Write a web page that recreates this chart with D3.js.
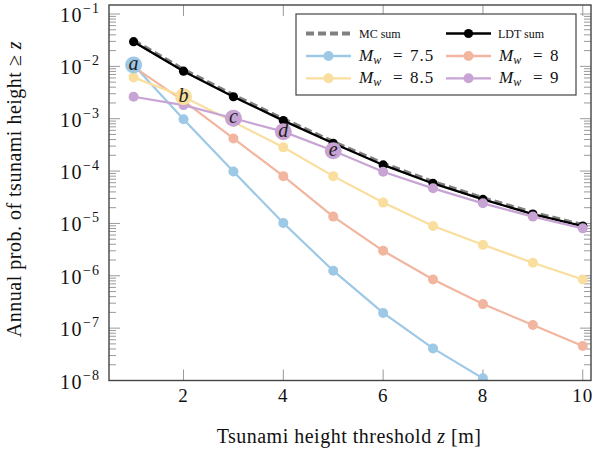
<!DOCTYPE html>
<html><head><meta charset="utf-8">
<script src="https://cdn.jsdelivr.net/npm/d3@7"></script>
<style>
body{margin:0;background:#fff;}
svg{display:block;}
</style></head>
<body>
<svg id="chart" width="594" height="450"></svg>
<script>
// ---- data ----
const thresholds = [1,2,3,4,5,6,7,8,9,10];
const mcSum   = [0.031, 0.0086, 0.0028, 0.00098, 0.00036, 0.000139, 6.2e-5, 3.05e-5, 1.6e-5, 9.3e-6];
const ldtSum  = [0.0296, 0.0081, 0.00263, 0.00092, 0.000339, 0.000131, 5.8e-5, 2.88e-5, 1.51e-5, 8.9e-6];
const mw75 = [0.0106, 0.00098, 9.8e-5, 1.02e-5, 1.25e-6, 1.95e-7, 4.1e-8, 1.1e-8];
const mw8  = [0.0098, 0.0022, 0.00042, 8.0e-5, 1.35e-5, 3.0e-6, 8.5e-7, 2.88e-7, 1.15e-7, 4.57e-8];
const mw85 = [0.00616, 0.00263, 0.00087, 0.000284, 8.0e-5, 2.5e-5, 8.9e-6, 3.9e-6, 1.78e-6, 8.5e-7];
const mw9  = [0.00263, 0.00182, 0.00102, 0.000566, 0.000245, 9.7e-5, 4.68e-5, 2.42e-5, 1.35e-5, 8.05e-6];
const xTicks = [2,4,6,8,10];
const yTickExps = [-1,-2,-3,-4,-5,-6,-7,-8];
const markLetters = ["a","b","c","d","e"];
const markSeries  = ["7.5","8.5","9","9","9"];
const markX       = [1,2,3,4,5];

const colors = {"7.5":"#9dc8e6","8":"#f2b59f","8.5":"#f9de9e","9":"#c8a4d5"};
const seriesData = {"7.5":mw75,"8":mw8,"8.5":mw85,"9":mw9};

// ---- layout ----
const FONT = "'Liberation Serif', 'DejaVu Serif', serif";
const svg = d3.select("#chart").attr("font-family", FONT);
const L=109, R=591, T=5, B=380.5;
const x = d3.scaleLinear().domain([0.507,10.165]).range([L,R]);
const y = d3.scaleLog().domain([1e-8, Math.pow(10,-0.828)]).range([B,T]);

svg.append("defs").append("clipPath").attr("id","clip")
  .append("rect").attr("x",L).attr("y",T).attr("width",R-L).attr("height",B-T);

// minor/major ticks
const tickG = svg.append("g").attr("stroke","#9a9a9a").attr("stroke-width",1);
const minor = [];
for (let e=-8;e<=-1;e++){ for(let m=2;m<=9;m++){ const v=m*Math.pow(10,e); if(v<=y.domain()[1]) minor.push(v);} }
minor.forEach(v=>{
  const yy=y(v);
  tickG.append("line").attr("x1",L).attr("x2",L+7).attr("y1",yy).attr("y2",yy);
  tickG.append("line").attr("x1",R).attr("x2",R-7).attr("y1",yy).attr("y2",yy);
});
yTickExps.forEach(e=>{
  const yy=y(Math.pow(10,e));
  tickG.append("line").attr("x1",L).attr("x2",L+11).attr("y1",yy).attr("y2",yy);
  tickG.append("line").attr("x1",R).attr("x2",R-11).attr("y1",yy).attr("y2",yy);
});
xTicks.forEach(v=>{
  const xx=x(v);
  tickG.append("line").attr("x1",xx).attr("x2",xx).attr("y1",B).attr("y2",B-11);
  tickG.append("line").attr("x1",xx).attr("x2",xx).attr("y1",T).attr("y2",T+11);
});

// tick labels
yTickExps.forEach(e=>{
  const t = svg.append("text").attr("x",100).attr("y",y(Math.pow(10,e))+8)
    .attr("text-anchor","end").attr("font-family",FONT).attr("font-size",20).attr("fill","#111");
  t.append("tspan").attr("letter-spacing",1.5).text("10");
  t.append("tspan").attr("dy",-9).attr("font-size",14).attr("letter-spacing",1).text("\u2212"+Math.abs(e));
});
xTicks.forEach(v=>{
  svg.append("text").attr("x",x(v)).attr("y",402).attr("text-anchor","middle").attr("font-family",FONT)
    .attr("font-size",19).attr("letter-spacing",1).attr("fill","#111").text(v);
});

// axis labels
const xl = svg.append("text").attr("x",349).attr("y",443).attr("text-anchor","middle").attr("font-family",FONT)
  .attr("font-size",20).attr("letter-spacing",0.5).attr("fill","#111");
xl.append("tspan").text("Tsunami height threshold ");
xl.append("tspan").attr("font-style","italic").text("z");
xl.append("tspan").text(" [m]");

const yl = svg.append("text").attr("transform","translate(21,189) rotate(-90)").attr("font-family",FONT)
  .attr("text-anchor","middle").attr("font-size",20).attr("letter-spacing",0.5).attr("fill","#111");
yl.append("tspan").text("Annual prob. of tsunami height \u2265 ");
yl.append("tspan").attr("font-style","italic").text("z");

// series
const plot = svg.append("g").attr("clip-path","url(#clip)");
const line = d3.line().x((d,i)=>x(thresholds[i])).y(d=>y(d));

plot.append("path").datum(mcSum).attr("d",line).attr("fill","none")
  .attr("stroke","#808080").attr("stroke-width",4).attr("stroke-dasharray","8,4");

plot.append("path").datum(ldtSum).attr("d",line).attr("fill","none")
  .attr("stroke","#000").attr("stroke-width",2.3);
plot.selectAll(".ldt").data(ldtSum).join("circle").attr("class","ldt")
  .attr("cx",(d,i)=>x(thresholds[i])).attr("cy",d=>y(d)).attr("r",4.6).attr("fill","#000");

["7.5","8","8.5","9"].forEach(k=>{
  const data = seriesData[k];
  plot.append("path").datum(data).attr("d",line).attr("fill","none")
    .attr("stroke",colors[k]).attr("stroke-width",2.2);
  plot.selectAll(".m"+k.replace(".","_")).data(data).join("circle").attr("class","m"+k.replace(".","_"))
    .attr("cx",(d,i)=>x(thresholds[i])).attr("cy",d=>y(d)).attr("r",5).attr("fill",colors[k]);
});

// letter markers
markLetters.forEach((lt,i)=>{
  const k = markSeries[i];
  const xi = markX[i];
  const v = seriesData[k][thresholds.indexOf(xi)];
  svg.append("circle").attr("cx",x(xi)).attr("cy",y(v)).attr("r",8.5).attr("fill",colors[k]);
  svg.append("text").attr("x",x(xi)).attr("y",y(v)+5).attr("text-anchor","middle").attr("font-family",FONT)
    .attr("font-size",20).attr("font-style","italic").attr("fill","#222").text(lt);
});

// frame
svg.append("rect").attr("x",L).attr("y",T).attr("width",R-L).attr("height",B-T)
  .attr("fill","none").attr("stroke","#444").attr("stroke-width",1.4);

// legend
const lg = svg.append("g").attr("font-family",FONT);
lg.append("rect").attr("x",296).attr("y",14).attr("width",280).attr("height",81)
  .attr("fill","#fff").attr("stroke","#444").attr("stroke-width",1.2);
const rows=[33.5,56,78.3], cols=[306,446];
function sample(cx,cy,color,dashed,marker){
  lg.append("line").attr("x1",cx).attr("x2",cx+45).attr("y1",cy).attr("y2",cy)
    .attr("stroke",color).attr("stroke-width",dashed?4:2.3).attr("stroke-dasharray",dashed?"8,4":null);
  if(marker) lg.append("circle").attr("cx",cx+22.5).attr("cy",cy).attr("r",marker).attr("fill",color);
}
sample(cols[0],rows[0],"#808080",true,0);
lg.append("text").attr("x",cols[0]+53).attr("y",rows[0]+4).attr("font-size",12).attr("fill","#111").text("MC sum");
sample(cols[1],rows[0],"#000",false,4.6);
lg.append("text").attr("x",cols[1]+52).attr("y",rows[0]+4).attr("font-size",12).attr("fill","#111").text("LDT sum");
const legM = [["7.5",0,1],["8",1,1],["8.5",0,2],["9",1,2]];
legM.forEach(([k,c,r])=>{
  sample(cols[c],rows[r],colors[k],false,5);
  const tx = cols[c]+53, ty = rows[r]+5;
  const t = lg.append("text").attr("x",tx).attr("y",ty).attr("font-size",17).attr("fill","#111");
  t.append("tspan").attr("font-style","italic").text("M");
  t.append("tspan").attr("font-style","italic").attr("font-size",12).attr("dy",3).text("w");
  lg.append("text").attr("x",tx+34).attr("y",ty).attr("font-size",17).attr("fill","#111").text("=");
  lg.append("text").attr("x",tx+51).attr("y",ty).attr("font-size",17).attr("letter-spacing",1).attr("fill","#111").text(k);
});
</script>
</body></html>
